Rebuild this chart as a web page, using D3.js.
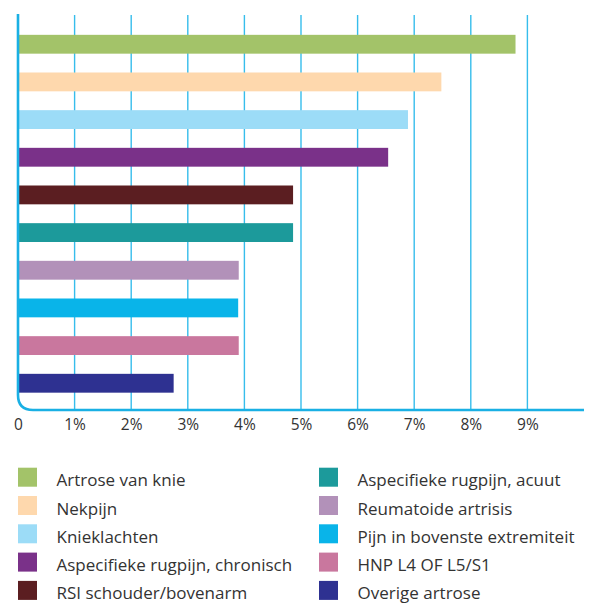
<!DOCTYPE html>
<html>
<head>
<meta charset="utf-8">
<script src="https://cdn.jsdelivr.net/npm/d3@7"></script>
<style>
  body { margin: 0; background: #fff; }
  svg { display: block; }
  text { font-family: "Open Sans", sans-serif; fill: #333; }
</style>
</head>
<body>
<div id="chart"></div>
<script>
// categories top to bottom
var categories = [
    "Artrose van knie",
    "Nekpijn",
    "Knieklachten",
    "Aspecifieke rugpijn, chronisch",
    "RSI schouder/bovenarm",
    "Aspecifieke rugpijn, acuut",
    "Reumatoide artrisis",
    "Pijn in bovenste extremiteit",
    "HNP L4 OF L5/S1",
    "Overige artrose"
];
var values = [8.79, 7.48, 6.89, 6.54, 4.86, 4.86, 3.90, 3.89, 3.90, 2.75];
var colors = ["#a3c369", "#fed8ad", "#9cdcf7", "#7a3189", "#5b1e21",
              "#1c9a9b", "#b291b9", "#09b4e9", "#c9779e", "#2e3191"];
var ticks = [0, 1, 2, 3, 4, 5, 6, 7, 8, 9];

var width = 593, height = 604;
var axisColor = "#1ab0e4";

var svg = d3.select("#chart").append("svg")
    .attr("width", width)
    .attr("height", height);

var x = d3.scaleLinear()
    .domain([0, 10])
    .range([18, 584]);

var y = d3.scaleBand()
    .domain(categories)
    .range([16, 411.5])
    .paddingInner(0.5)
    .paddingOuter(0.5);

var color = d3.scaleOrdinal()
    .domain(categories)
    .range(colors);

var axisBottomY = 410, axisTopY = 14;

// gridlines
svg.append("g")
    .selectAll("line")
    .data(ticks.slice(1))
    .enter().append("line")
    .attr("x1", function (d) { return x(d); })
    .attr("x2", function (d) { return x(d); })
    .attr("y1", axisTopY + 1)
    .attr("y2", axisBottomY)
    .style("stroke", "#36bdec")
    .style("stroke-width", 1.4);

// bars
svg.append("g")
    .selectAll("rect")
    .data(categories)
    .enter().append("rect")
    .attr("x", x(0))
    .attr("y", function (d) { return y(d); })
    .attr("width", function (d, i) { return x(values[i]) - x(0); })
    .attr("height", y.bandwidth())
    .style("fill", function (d) { return color(d); });

// axis frame with rounded corner
var r = 15;
svg.append("path")
    .attr("d", "M" + x(0) + "," + axisTopY +
        "V" + (axisBottomY - r) +
        "Q" + x(0) + "," + axisBottomY + " " + (x(0) + r) + "," + axisBottomY +
        "H" + x(10))
    .style("fill", "none")
    .style("stroke", axisColor)
    .style("stroke-width", 2.6);

// tick labels
var xAxis = d3.axisBottom(x)
    .tickValues(ticks)
    .tickSize(0)
    .tickPadding(0)
    .tickFormat(function (d) { return d === 0 ? "0" : d + "%"; });

var gx = svg.append("g")
    .attr("transform", "translate(0," + axisBottomY + ")")
    .call(xAxis);
gx.select(".domain").remove();
gx.selectAll("text")
    .attr("y", 20)
    .attr("dy", 0)
    .style("font-size", "15.5px")
    .style("font-family", "'Open Sans', sans-serif")
    .style("fill", "#333");

// legend
var legend = svg.selectAll(".legend")
    .data(categories)
    .enter().append("g")
    .attr("class", "legend")
    .attr("transform", function (d, i) {
        var col = Math.floor(i / 5), row = i % 5;
        return "translate(" + (col === 0 ? 18 : 319) + "," + (467.7 + row * 28.3) + ")";
    });

legend.append("rect")
    .attr("width", 19)
    .attr("height", 19)
    .style("fill", function (d) { return color(d); });

legend.append("text")
    .attr("x", 38.5)
    .attr("y", 18.5)
    .style("font-size", "17px")
    .text(function (d) { return d; });
</script>
</body>
</html>
